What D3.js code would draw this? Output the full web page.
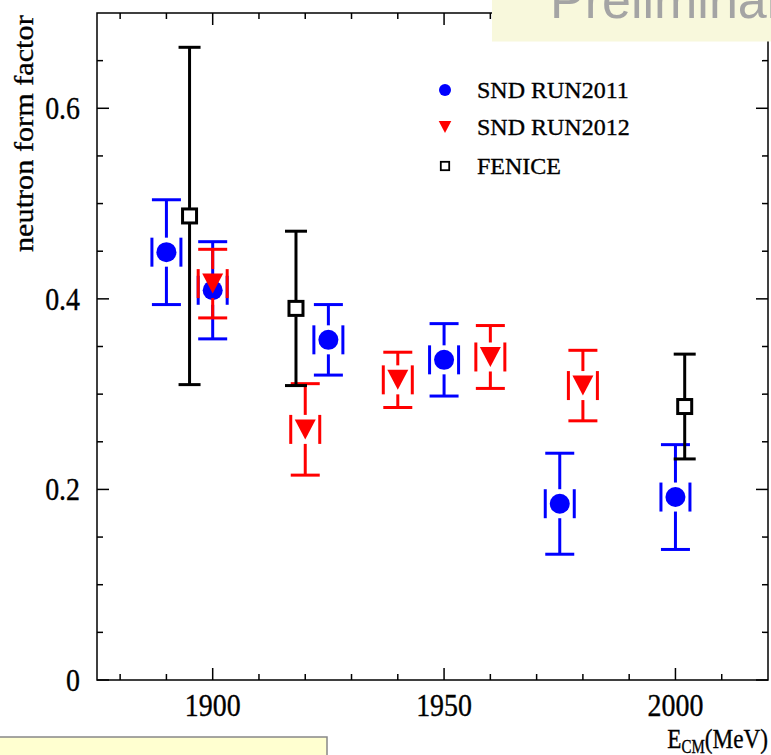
<!DOCTYPE html>
<html>
<head>
<meta charset="utf-8">
<script src="https://cdn.jsdelivr.net/npm/d3@7"></script>
<style>
  html, body { margin: 0; padding: 0; background: #fff; }
  svg { display: block; }
  text { font-family: "Liberation Serif", "Times New Roman", serif; fill: #000; stroke: #000; stroke-width: 0.35px; }
</style>
</head>
<body>
<svg id="chart" width="771" height="755"></svg>
<script>
// SND RUN2011
const run2011E = [1890, 1900, 1925, 1950, 1975, 2000];
const run2011F = [0.449, 0.409, 0.357, 0.336, 0.185, 0.192];
const run2011Err = [0.055, 0.051, 0.037, 0.038, 0.053, 0.055];

// SND RUN2012
const run2012E = [1900, 1920, 1940, 1960, 1980];
const run2012F = [0.416, 0.263, 0.315, 0.339, 0.309];
const run2012Err = [0.036, 0.048, 0.029, 0.033, 0.037];

// FENICE
const feniceE = [1895, 1918, 2002];
const feniceF = [0.487, 0.390, 0.287];
const feniceErr = [0.177, 0.081, 0.055];

const xMajor = [1900, 1950, 2000];
const yMajor = [0, 0.2, 0.4, 0.6];
const yLabels = ["0", "0.2", "0.4", "0.6"];

const svg = d3.select("#chart");

const frame = { left: 97, right: 768, top: 13, bottom: 680 };

const x = d3.scaleLinear().domain([1875, 2020]).range([frame.left, frame.right]);
const y = d3.scaleLinear().domain([0, 0.7]).range([frame.bottom, frame.top]);

// ticks (ROOT style, inside the frame on all four sides)
const ticks = svg.append("g").attr("stroke", "#000").attr("stroke-width", 1.5);
const xMinor = d3.range(1880, 2020, 10).filter(v => !xMajor.includes(v));
const yMinor = d3.range(0.05, 0.7, 0.05).filter(v => !yMajor.some(m => Math.abs(m - v) < 1e-6));

function xTick(v, len) {
    ticks.append("line").attr("x1", x(v)).attr("x2", x(v))
        .attr("y1", frame.bottom).attr("y2", frame.bottom - len);
    ticks.append("line").attr("x1", x(v)).attr("x2", x(v))
        .attr("y1", frame.top).attr("y2", frame.top + len);
}
function yTick(v, len) {
    ticks.append("line").attr("y1", y(v)).attr("y2", y(v))
        .attr("x1", frame.left).attr("x2", frame.left + len);
    ticks.append("line").attr("y1", y(v)).attr("y2", y(v))
        .attr("x1", frame.right).attr("x2", frame.right - len);
}
xMajor.forEach(v => xTick(v, 12));
xMinor.forEach(v => xTick(v, 6));
yMajor.forEach(v => yTick(v, 12));
yMinor.forEach(v => yTick(v, 6));

svg.append("rect")
    .attr("x", frame.left).attr("y", frame.top)
    .attr("width", frame.right - frame.left).attr("height", frame.bottom - frame.top)
    .attr("fill", "none").attr("stroke", "#000").attr("stroke-width", 1.5);

// the picture is a bit squeezed sideways, so the text is too
const sx = 0.9;

// tick labels
svg.append("g").selectAll("text").data(xMajor).enter().append("text")
    .attr("transform", d => `translate(${x(d)},716) scale(${sx},1)`)
    .attr("text-anchor", "middle").attr("font-size", 31)
    .text(d => d);

svg.append("g").selectAll("text").data(yMajor).enter().append("text")
    .attr("transform", d => `translate(80,${y(d) + 11}) scale(${sx},1)`)
    .attr("text-anchor", "end").attr("font-size", 31)
    .text((d, i) => yLabels[i]);

// axis titles
svg.append("text")
    .attr("transform", "translate(33,252) rotate(-90) scale(1.12,1)")
    .attr("font-size", 27)
    .text("neutron form factor");

const xt = svg.append("text")
    .attr("transform", "translate(768,748) scale(0.83,1)")
    .attr("text-anchor", "end").attr("font-size", 28);
xt.append("tspan").text("E");
xt.append("tspan").attr("font-size", 18).attr("dy", 5).text("CM");
xt.append("tspan").attr("dy", -5).text("(MeV)");

// error-bar points
const cap = 14.5;
function drawSeries(es, fs, errs, color, marker, sideMarks, capHalf) {
    const g = svg.append("g");
    es.forEach((e, i) => {
        const cx = x(e), cy = y(fs[i]);
        const top = y(fs[i] + errs[i]), bot = y(fs[i] - errs[i]);
        const gap = sideMarks ? cap : 8;
        const s = g.append("g").attr("stroke", color).attr("stroke-width", 3).attr("fill", "none");
        s.append("line").attr("x1", cx).attr("x2", cx).attr("y1", top).attr("y2", Math.min(cy - gap, bot));
        s.append("line").attr("x1", cx).attr("x2", cx).attr("y1", Math.max(cy + gap, top)).attr("y2", bot);
        s.append("line").attr("x1", cx - capHalf).attr("x2", cx + capHalf).attr("y1", top).attr("y2", top);
        s.append("line").attr("x1", cx - capHalf).attr("x2", cx + capHalf).attr("y1", bot).attr("y2", bot);
        if (sideMarks) {
            s.append("line").attr("x1", cx - cap).attr("x2", cx - cap).attr("y1", cy - cap).attr("y2", cy + cap);
            s.append("line").attr("x1", cx + cap).attr("x2", cx + cap).attr("y1", cy - cap).attr("y2", cy + cap);
        }
        marker(g, cx, cy, 1);
    });
}

function circleMarker(g, cx, cy, k) {
    g.append("circle").attr("cx", cx).attr("cy", cy).attr("r", 10 * k).attr("fill", "#0000ff");
}
function triangleMarker(g, cx, cy, k) {
    const w = 10.5 * k, h = 10 * k;
    g.append("path")
        .attr("d", `M${cx - w},${cy - h}L${cx + w},${cy - h}L${cx},${cy + h}Z`)
        .attr("fill", "#ff0000");
}
function squareMarker(g, cx, cy, k) {
    const a = 7 * k;
    g.append("rect").attr("x", cx - a).attr("y", cy - a).attr("width", 2 * a).attr("height", 2 * a)
        .attr("fill", "#fff").attr("stroke", "#000").attr("stroke-width", 3 * k);
}

drawSeries(run2011E, run2011F, run2011Err, "#0000ff", circleMarker, true, cap);
drawSeries(run2012E, run2012F, run2012Err, "#ff0000", triangleMarker, true, cap);
drawSeries(feniceE, feniceF, feniceErr, "#000", squareMarker, false, 11);

// legend
const legend = svg.append("g");
const legendItems = [
    { label: "SND RUN2011", marker: circleMarker, y: 90 },
    { label: "SND RUN2012", marker: triangleMarker, y: 127 },
    { label: "FENICE", marker: squareMarker, y: 166 }
];
legendItems.forEach(d => {
    d.marker(legend, 445, d.y, 0.6);
    legend.append("text").attr("x", 477).attr("y", d.y + 8)
        .attr("font-size", 24).text(d.label);
});

// "Preliminary" banner (cut by the page edge)
svg.append("rect").attr("x", 492).attr("y", -5).attr("width", 290).attr("height", 46.5)
    .attr("fill", "#f8f8dc");
svg.append("text").attr("x", 550).attr("y", 17.5)
    .style("font-family", "'Liberation Sans', Arial, sans-serif")
    .style("fill", "#a4a4a4").style("stroke", "none")
    .attr("font-size", 52)
    .text("Preliminary");

// bottom-left note box (cut by the page edge)
svg.append("rect").attr("x", -5).attr("y", 737).attr("width", 332).attr("height", 30)
    .attr("fill", "#ffffd0").attr("stroke", "#888").attr("stroke-width", 1.5);
</script>
</body>
</html>
